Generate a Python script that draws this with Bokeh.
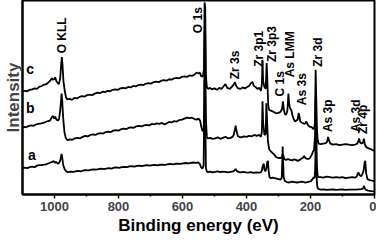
import math
from bokeh.plotting import figure
from bokeh.models import Range1d, FixedTicker, Title
from bokeh.core.properties import value
from bokeh.embed import file_html
from bokeh.resources import INLINE

# ---------------- data (binding energy eV, intensity a.u.) ----------------
c_ev = [1100,1092,1085,1078,1070,1062,1055,1048,1040,1032,1025,1018,1012,1008,1005,1001,998,994,990,986,982,979,977,975,972,968,964,960,
        952,945,938,930,922,915,906,898,890,882,874,866,858,850,842,834,826,818,810,802,794,786,778,770,762,754,746,738,730,722,714,706,
        698,690,682,674,666,658,650,642,634,626,618,610,602,594,586,578,570,562,556,550,546,542,537,533,531,529,527,524,520,514,508,500,
        492,485,478,472,466,460,452,446,441,436,432,426,418,412,405,398,392,386,381,377,372,366,360,355,352,350,348,344,340,337,335,332,
        329,322,315,308,300,294,289,286,284,281,278,275,272,269,267,264,260,256,252,248,244,240,237,235,232,228,222,217,213,209,205,200,
        196,191,188,186,184,182,180,178,175,168,160,152,148,145,142,138,130,120,110,100,90,80,70,60,54,51,48,45,41,36,33,30,25,18,10,4,0]
c_int = [107,108,107.5,109,109.5,110.5,110,112,113,114.5,115,117,119,121,119.5,120,122,118,116,115,122,136,143,135,118,108,101,99,
         99.5,98.5,100.5,100,101.5,102.5,102,103.5,104,103.5,105,106,105.5,107,106.5,108,107.5,109,109.5,109,110.5,111,110.5,112,111.5,113,112.5,114,114.5,114,115.5,116,
         115.5,117,117.5,117,118.5,119,118.5,120,119.5,121,121.5,121,122.5,123,122.5,124,123.5,125,127,126,127,123.5,122.5,130,200,195,125,112,110,111,109.5,110.5,
         109,111,110,112.5,115,111,110,112,114,117,113,110.5,110,111.5,110.5,112,113,116,117,113,112,110,111,108,115,140,118,112,110,137,120,92,
         88,87,86,84.5,85,86,89,97,90,85,83,84,88,105,95,90,88,82,78,76,77,78,85,82,76,75,74,73.5,76,73,71,70.5,
         70,68,70,75,130,100,70,58,53,52.5,53,53.5,55,60,56,53,52,52.5,51.5,52,52.5,52,51.5,52,53,55,58.3,54,53,54,58,52,49,48,47,46,45]

b_ev = [1100,1095,1088,1080,1072,1065,1058,1050,1042,1035,1028,1020,1014,1009,1005,1001,998,994,990,986,982,979,978,976,973,969,965,960,
        952,944,936,928,920,912,904,896,888,880,872,864,856,848,840,832,824,816,808,800,792,784,776,768,760,752,744,736,728,720,712,704,
        696,688,680,672,664,656,650,642,634,626,618,610,602,594,586,578,570,562,556,550,545,541,537,534,532,531,529,527,524,521,514,506,
        498,490,482,474,466,458,450,444,440,436,434,431,427,423,416,408,400,392,384,376,368,360,355,352,350,348,344,340,338,336,333,329,
        324,318,314,308,300,294,289,287,285,282,276,270,264,258,252,246,240,234,228,224,220,216,210,205,200,195,192,189,186,184,182,180,
        178,175,168,160,150,140,130,120,110,100,90,80,70,60,55,51,49,46,42,38,34,31,29,26,22,15,8,0]
b_int = [70,70.5,70,71.5,72,71.5,73,73.5,74,74.5,75.5,76.5,77,80,82,79,81,78,77,78,88,100,105,98,80,65,59,56.7,
         57.5,57,58.5,59,58.5,60,61,60.5,62,62.5,62,63.5,64,63.5,65,65.5,65,66.5,67,66.5,68,68.5,68,69.5,70,69.5,71,71.5,71,72,72.5,72,
         73.5,73,74,73.5,74.5,73,74,75.5,75,76.5,76,77.5,78,79,80,79.5,80,78.5,78,79,77,70,66,67,90,170,165,80,60,58.3,59,58,
         58.5,59.5,58,59,60,58.5,59,60,62,68,71.7,66,61,60,59.5,60.5,60,61,60.5,62,61,62,60,65,97,75,62,63,95,80,55,47,
         45,43,42,39,38,38,39,42,41,37,36,37,36,35.5,36.5,36,35,36,37.5,38,40,38,37,37,39,42,45,46,60,100,70,30,
         20,18,18,17.5,18.5,18,17.5,18,17.5,18,17,17.5,18,17.5,19,23,22,20,19,21,25,33,35,22,16,15,14.5,14]

a_ev = [1100,1092,1085,1078,1070,1062,1055,1048,1040,1032,1025,1018,1012,1007,1003,999,995,990,985,981,978,976,973,968,963,958,
        950,942,934,926,918,910,902,894,886,878,870,862,854,846,838,830,822,814,806,798,790,782,774,766,758,750,742,734,726,718,710,702,
        694,686,678,670,662,654,646,638,630,622,614,606,598,590,582,574,566,558,552,546,542,538,534,531,529,527,524,521,514,506,498,490,
        482,474,466,458,450,442,438,434,430,425,418,410,402,394,386,378,370,362,355,352,349,346,344,341,338,335,333,331,328,324,318,312,
        306,300,294,290,288,287,286,284,280,274,266,258,250,242,234,226,218,210,204,198,194,190,187,185,184,182,180,178,174,166,158,150,
        140,130,120,110,100,90,80,70,60,50,42,36,34,33,31,28,20,10,0]
a_int = [27.7,28,27.5,28.5,29,28.5,30,30.5,30.5,31,31.5,32.5,33.3,34,35,33,34,32,33,37,42.3,39,31,26,24,23.3,
         23.8,23.5,24,24.5,24,25,25.5,25,25.8,26.2,25.8,26.5,27,26.5,27,27.5,27,28,28.2,27.8,28.5,28.8,28.5,29.2,29.5,29,29.8,30,29.6,30.2,30.5,30,
         30.5,30.8,30.3,31,31.2,30.8,31.5,31.8,31.3,32,32.2,31.8,32.5,32.8,32.3,33,33.3,33,33.5,32,28.5,27,30,120,100,28,24,23.3,23.8,23,23.5,24,
         23.2,23.8,23.5,23,23.6,24,25,26.5,24.5,23.5,23,23.5,23,22.8,23.2,22.5,23,22.8,23,25,30,32,26,24,27,34,35,25,18,17,17.5,17,
         16.5,16,15.5,17,35,50,40,18,14,13,12.5,13.5,13,12.5,13,13.5,12.5,13,13.5,14,16,18,17,30,60,35,12,7,5.5,5,5.3,4.8,
         5,5.2,4.8,5,5.2,4.9,5,5.1,5,5.3,5.5,6,8,9,7,5,4,3.5,3.3]

# peak labels
peak_text = ["O KLL", "O 1s", "Zr 3s", "Zr 3p1", "Zr 3p3", "C 1s", "As LMM", "As 3s", "Zr 3d", "As 3p", "As 3d", "Zr 4p"]
peak_ev   = [976, 553, 435, 362, 320, 295, 263, 227, 178, 145, 59, 36]
peak_int  = [147, 168, 120, 133, 138, 102, 122, 93, 133, 65, 65, 63]

# curve labels
curve_text = ["c", "b", "a"]
curve_ev   = [1076, 1076, 1071]
curve_int  = [122, 82, 33]

x_ticks = [0, 200, 400, 600, 800, 1000]
x_minor = [100, 300, 500, 700, 900]
x_title = "Binding energy (eV)"
y_title = "Intensity"

FONT = "Liberation Sans"

p = figure(width=376, height=234, x_range=Range1d(1100, 0), y_range=Range1d(0, 202),
           output_backend="svg", toolbar_location=None)
p.min_border_left = 0
p.min_border_right = 2
p.min_border_top = 0
p.min_border_bottom = 0
p.background_fill_color = "white"
p.border_fill_color = "white"
p.outline_line_color = "black"
p.outline_line_width = 2
p.xgrid.grid_line_color = None
p.ygrid.grid_line_color = None

for xs, ys in [(a_ev, a_int), (b_ev, b_int), (c_ev, c_int)]:
    p.line(xs, ys, line_color="black", line_width=1.8)

p.text(x=peak_ev, y=peak_int, text=peak_text, angle=math.pi / 2,
       text_font=value(FONT), text_font_style="bold", text_font_size="12px",
       text_align="left", text_baseline="middle", text_color="black")
p.text(x=curve_ev, y=curve_int, text=curve_text,
       text_font=value(FONT), text_font_style="bold", text_font_size="14px",
       text_align="center", text_baseline="bottom", text_color="black")

xa = p.xaxis[0]
xa.ticker = FixedTicker(ticks=x_ticks, minor_ticks=x_minor)
xa.major_label_text_font = FONT
xa.major_label_text_font_style = "bold"
xa.major_label_text_font_size = "13px"
xa.major_label_standoff = 3
xa.axis_line_width = 2
xa.major_tick_in = 0
xa.major_tick_out = 4
xa.minor_tick_in = 0
xa.minor_tick_out = 2
xa.major_tick_line_width = 1.5
xa.minor_tick_line_width = 1.5

p.add_layout(Title(text=x_title, align="center", text_font=FONT, text_font_style="bold",
                   text_font_size="17px", text_color="black", standoff=0, offset=0), "below")

ya = p.yaxis[0]
ya.ticker = FixedTicker(ticks=[])
ya.axis_label = y_title
ya.axis_label_text_font = FONT
ya.axis_label_text_font_style = "bold"
ya.axis_label_text_font_size = "17px"
ya.axis_label_standoff = 0
ya.major_label_text_font_size = "0px"
ya.major_label_standoff = 0
ya.major_tick_line_color = None
ya.minor_tick_line_color = None
ya.axis_line_width = 2

open("out.html", "w").write(file_html(p, INLINE))
